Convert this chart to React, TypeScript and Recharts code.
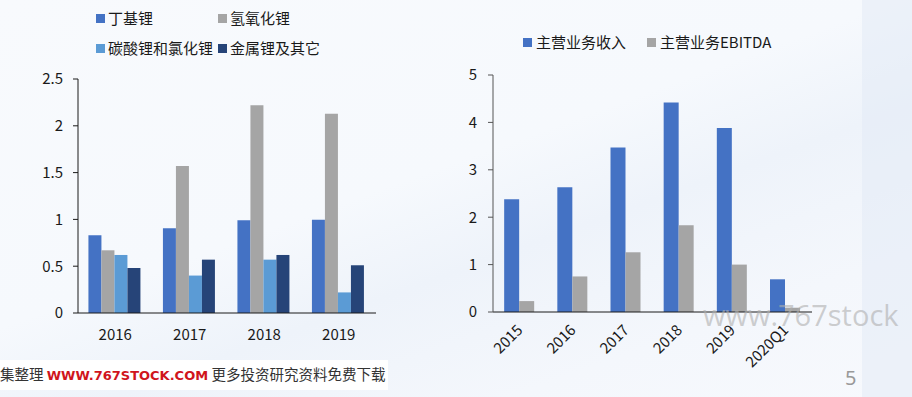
import React from 'react';
import { BarChart, Bar, XAxis, YAxis, Legend } from 'recharts';

const leftCategories = ['2016', '2017', '2018', '2019'];
const butylLithium = [0.83, 0.905, 0.99, 0.995];
const lithiumHydroxide = [0.67, 1.57, 2.22, 2.13];
const lithiumCarbonateChloride = [0.62, 0.40, 0.57, 0.22];
const metalLithiumOther = [0.48, 0.57, 0.62, 0.51];
const leftTicks = [0, 0.5, 1, 1.5, 2, 2.5];

const rightCategories = ['2015', '2016', '2017', '2018', '2019', '2020Q1'];
const mainRevenue = [2.38, 2.63, 3.47, 4.42, 3.88, 0.69];
const mainEbitda = [0.23, 0.75, 1.26, 1.83, 1.0, 0.09];
const rightTicks = [0, 1, 2, 3, 4, 5];

const leftSeries = [
  { key: 'a', name: '丁基锂', color: '#4472C4', values: butylLithium },
  { key: 'b', name: '氢氧化锂', color: '#A5A5A5', values: lithiumHydroxide },
  { key: 'c', name: '碳酸锂和氯化锂', color: '#5B9BD5', values: lithiumCarbonateChloride },
  { key: 'd', name: '金属锂及其它', color: '#264478', values: metalLithiumOther },
];
const rightSeries = [
  { key: 'r', name: '主营业务收入', color: '#4472C4', values: mainRevenue },
  { key: 'e', name: '主营业务EBITDA', color: '#A5A5A5', values: mainEbitda },
];

const leftData = leftCategories.map((c, i) => {
  const row: any = { cat: c };
  leftSeries.forEach((s) => (row[s.key] = s.values[i]));
  return row;
});
const rightData = rightCategories.map((c, i) => {
  const row: any = { cat: c };
  rightSeries.forEach((s) => (row[s.key] = s.values[i]));
  return row;
});

const FONT = '"Noto Sans CJK SC", "Noto Sans", sans-serif';

const LeftLegend = () => (
  <div style={{ position: 'relative', width: 400, height: 70, fontFamily: FONT, fontSize: 15, color: '#1a1a1a' }}>
    {leftSeries.map((s, i) => {
      const col = i % 2;
      const row = Math.floor(i / 2);
      return (
        <div key={s.key} style={{ position: 'absolute', left: col === 0 ? 96 : 218, top: row === 0 ? 7 : 37, display: 'flex', alignItems: 'center', whiteSpace: 'nowrap', lineHeight: '22px' }}>
          <span style={{ display: 'inline-block', width: 9, height: 9, background: s.color, marginRight: 3 }} />
          <span>{s.name}</span>
        </div>
      );
    })}
  </div>
);

const RightLegend = () => (
  <div style={{ position: 'relative', width: 472, height: 40, fontFamily: FONT, fontSize: 15, color: '#1a1a1a' }}>
    {rightSeries.map((s, i) => (
      <div key={s.key} style={{ position: 'absolute', left: i === 0 ? 83 : 207, top: 31, display: 'flex', alignItems: 'center', whiteSpace: 'nowrap', lineHeight: '22px' }}>
        <span style={{ display: 'inline-block', width: 9, height: 9, background: s.color, marginRight: 4 }} />
        <span>{s.name}</span>
      </div>
    ))}
  </div>
);

const LeftXTick = (props: any) => {
  const { x, y, payload } = props;
  return (
    <text x={x} y={y + 27} textAnchor="middle" fontSize={15} fill="#1a1a1a" fontFamily={FONT}>
      {payload.value}
    </text>
  );
};

const RightXTick = (props: any) => {
  const { x, y, payload } = props;
  const tx = x + 4;
  const ty = y + 19;
  return (
    <text x={tx} y={ty} textAnchor="end" fontSize={15} fill="#1a1a1a" fontFamily={FONT} transform={`rotate(-45, ${tx}, ${ty})`}>
      {payload.value}
    </text>
  );
};

export default function App() {
  return (
    <div
      style={{
        position: 'absolute',
        left: 0,
        top: 0,
        width: 912,
        height: 397,
        overflow: 'hidden',
        background: 'linear-gradient(160deg, #f8fafd 0%, #f6f9fd 45%, #eef3fa 60%, #f4f7fc 80%, #f7f9fd 100%)',
        fontFamily: FONT,
      }}
    >
      <div style={{ position: 'absolute', left: 862, top: 0, width: 50, height: 397, background: 'rgba(225,233,245,0.5)' }} />
      <div style={{ position: 'absolute', left: 0, top: 360, width: 388, height: 30, background: '#ffffff' }} />

      <div style={{ position: 'absolute', left: 0, top: 0 }}>
        <BarChart width={400} height={397} data={leftData} margin={{ top: 79, right: 24, bottom: 54, left: 0 }} barCategoryGap="14%" barGap={0}>
          <XAxis dataKey="cat" tickLine={false} tickSize={0} tickMargin={0} axisLine={{ stroke: '#1a1a1a' }} tick={<LeftXTick />} height={30} interval={0} />
          <YAxis domain={[0, 2.5]} ticks={leftTicks} width={78} tickSize={5} tickMargin={10} axisLine={{ stroke: '#1a1a1a' }} tickLine={{ stroke: '#1a1a1a' }} tick={{ fontSize: 15, fill: '#1a1a1a', fontFamily: FONT }} />
          <Legend layout="vertical" align="center" verticalAlign="middle" wrapperStyle={{ top: 0, left: 0, width: 400, height: 70 }} content={<LeftLegend />} />
          {leftSeries.map((s) => (
            <Bar key={s.key} dataKey={s.key} name={s.name} fill={s.color} isAnimationActive={false} />
          ))}
        </BarChart>
      </div>

      <div style={{ position: 'absolute', left: 440, top: 0 }}>
        <BarChart width={472} height={397} data={rightData} margin={{ top: 75, right: 100, bottom: 35, left: 0 }} barCategoryGap="21%" barGap={0}>
          <XAxis dataKey="cat" tickLine={false} tickSize={0} tickMargin={0} axisLine={{ stroke: '#1a1a1a' }} tick={<RightXTick />} height={50} interval={0} />
          <YAxis domain={[0, 5]} ticks={rightTicks} width={53} tickSize={5} tickMargin={11} axisLine={{ stroke: '#555' }} tickLine={{ stroke: '#555' }} tick={{ fontSize: 15, fill: '#1a1a1a', fontFamily: FONT }} />
          <Legend layout="vertical" align="center" verticalAlign="middle" wrapperStyle={{ top: 0, left: 0, width: 472, height: 40 }} content={<RightLegend />} />
          {rightSeries.map((s) => (
            <Bar key={s.key} dataKey={s.key} name={s.name} fill={s.color} isAnimationActive={false} />
          ))}
        </BarChart>
      </div>

      <div style={{ position: 'absolute', left: 703, top: 295, fontSize: 29, color: 'rgba(175,175,175,0.6)', fontFamily: '"Open Sans", sans-serif', whiteSpace: 'nowrap' }}>
        www.767stock
      </div>

      <div style={{ position: 'absolute', left: 0, top: 363, fontSize: 14.5, whiteSpace: 'nowrap', color: '#333', lineHeight: '22px' }}>
        <span>集整理 </span>
        <span style={{ color: '#d0151c', fontWeight: 'bold', fontFamily: '"DejaVu Sans", sans-serif', fontSize: 13 }}>WWW.767STOCK.COM</span>
        <span> 更多投资研究资料免费下载</span>
      </div>

      <div style={{ position: 'absolute', left: 845, top: 364, fontSize: 20, color: '#999', fontFamily: '"Noto Sans", sans-serif' }}>5</div>
    </div>
  );
}
